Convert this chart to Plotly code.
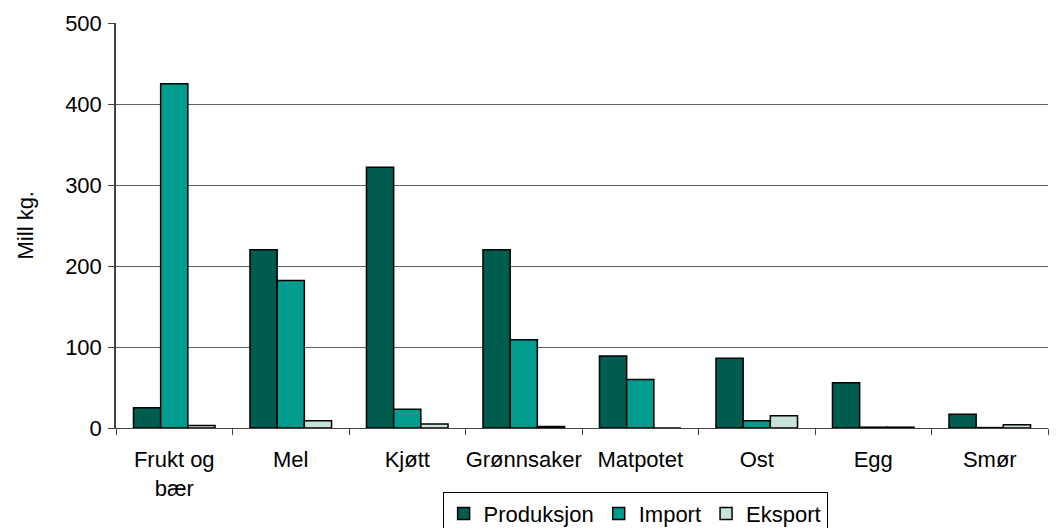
import plotly.graph_objects as go

categories = ["Frukt og<br>bær", "Mel", "Kjøtt", "Grønnsaker", "Matpotet", "Ost", "Egg", "Smør"]
produksjon = [25, 220, 322, 220, 89, 86, 56, 17]
import_vals = [425, 182, 23, 109, 60, 9, 1, 0.5]
eksport = [3, 9, 5, 2, 0, 15, 1, 4]

series = [
    ("Produksjon", produksjon, "#005C4F"),
    ("Import", import_vals, "#009C8E"),
    ("Eksport", eksport, "#C8E4D8"),
]

fig = go.Figure()
for name, vals, col in series:
    fig.add_trace(go.Bar(
        x=categories, y=vals, name=name,
        marker=dict(color=col, line=dict(color="black", width=1.5)),
    ))

# page body has an 8px margin, so the figure is offset by (8, 8)
fig.update_layout(
    width=1051, height=520,
    margin=dict(l=108, r=11, t=15, b=100),
    paper_bgcolor="white", plot_bgcolor="white",
    font=dict(family="Liberation Sans, Arial, sans-serif", size=22, color="black"),
    barmode="group", bargap=0.3, bargroupgap=0,
    showlegend=True,
    legend=dict(
        orientation="h", x=0.557, xanchor="center",
        yref="container", y=0.07, yanchor="top",
        bordercolor="black", borderwidth=1, bgcolor="white",
        font=dict(size=22), itemwidth=30, tracegroupgap=0,
    ),
    xaxis=dict(
        automargin=False, tickangle=0,
        showline=True, linecolor="#4a4040", linewidth=1,
        ticks="outside", tickson="boundaries", ticklen=6, tickcolor="#4a4040",
        showgrid=False, ticklabelstandoff=12,
    ),
    yaxis=dict(
        automargin=False,
        range=[0, 500], dtick=100,
        showline=True, linecolor="#4a4040", linewidth=1.5,
        ticks="outside", ticklen=6, tickcolor="#4a4040",
        showgrid=True, gridcolor="#606060", gridwidth=1,
        zeroline=False, ticklabelstandoff=2,
    ),
    annotations=[dict(
        text="Mill kg.", textangle=-90, xref="paper", yref="paper",
        x=-0.0966, y=0.5, xanchor="center", yanchor="middle",
        showarrow=False, font=dict(size=22),
    )],
)

fig.write_html("out.html")
